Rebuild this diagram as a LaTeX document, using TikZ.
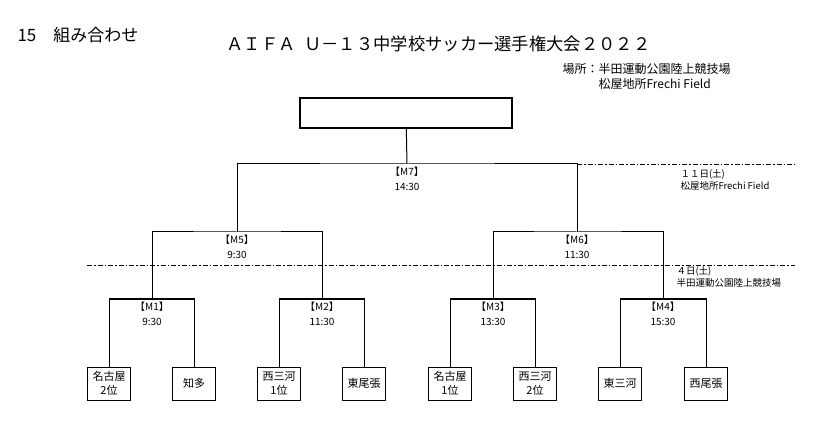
\documentclass[tikz,border=0pt]{standalone}
\usepackage{fontspec}
\setmainfont{Noto Sans CJK JP}
\usetikzlibrary{positioning}
\tikzset{
  team/.style={draw, minimum width=43pt, minimum height=33pt, inner sep=0pt,
    align=center, font=\fontsize{11}{13.5}\selectfont},
  match/.style={align=center, inner sep=0pt, font=\fontsize{10}{14.5}\selectfont},
  day/.style={anchor=north west, align=left, inner sep=0pt, font=\fontsize{9.5}{12}\selectfont},
  dashdot/.style={line width=0.8pt, dash pattern=on 5pt off 2pt on 1.5pt off 2pt},
}

\begin{document}
\begin{tikzpicture}[x=1pt,y=-1pt,line width=1pt]
  \useasboundingbox (0,0) rectangle (817,422);
  % headings
  \node (num) [anchor=west, inner sep=0pt, font=\fontsize{17}{20}\selectfont] at (17,35) {15　組み合わせ};
  \node (title) [anchor=west, inner sep=0pt, font=\fontsize{17.3}{20}\selectfont] at (226,44)
    {ＡＩＦＡ\hspace{0.5em}Ｕ－１３中学校サッカー選手権大会２０２２};
  \node (venue) [anchor=north west, align=left, inner sep=0pt, font=\fontsize{12}{15}\selectfont] at (562,63)
    {場所：半田運動公園陸上競技場\\\phantom{場所：}松屋地所Frechi Field};

  % teams
  \node (l1) [team] at (109,383.5) {名古屋\\2位};
  \node (l2) [team] at (194,383.5) {知多};
  \node (l3) [team] at (279,383.5) {西三河\\1位};
  \node (l4) [team] at (364,383.5) {東尾張};
  \node (l5) [team] at (450,383.5) {名古屋\\1位};
  \node (l6) [team] at (535,383.5) {西三河\\2位};
  \node (l7) [team] at (620,383.5) {東三河};
  \node (l8) [team] at (706,383.5) {西尾張};

  % matches
  \coordinate (m1) at (152,299);
  \coordinate (m2) at (322,299);
  \coordinate (m3) at (493,299);
  \coordinate (m4) at (663,299);
  \coordinate (m5) at (237,232);
  \coordinate (m6) at (577,232);
  \coordinate (m7) at (407,164);
  \node (final) [draw, line width=2pt, minimum width=212pt, minimum height=30pt] at (406,113) {};

  \foreach \a/\m/\b in {l1/m1/l2, l3/m2/l4, l5/m3/l6, l7/m4/l8, m1/m5/m2, m3/m6/m4, m5/m7/m6}
    \draw (\a) |- (\m) -| (\b);
  \draw (m7) -- (final);

  \node (t1) [match, below=3pt of m1] {【M1】\\9:30};
  \node (t2) [match, below=3pt of m2] {【M2】\\11:30};
  \node (t3) [match, below=3pt of m3] {【M3】\\13:30};
  \node (t4) [match, below=3pt of m4] {【M4】\\15:30};
  \node (t5) [match, below=3pt of m5] {【M5】\\9:30};
  \node (t6) [match, below=3pt of m6] {【M6】\\11:30};
  \node (t7) [match, below=3pt of m7] {【M7】\\14:30};

  % day lines
  \coordinate (e1) at (795,164);
  \coordinate (s2) at (87,265);
  \coordinate (e2) at (795,265);
  \draw[dashdot] (m6 |- m7) -- (e1);
  \draw[dashdot] (s2) -- (e2);
  \node (day11) [day] at (680,169) {１１日(土)\\松屋地所Frechi Field};
  \node (day4) [day] at (676,266) {４日(土)\\半田運動公園陸上競技場};
\end{tikzpicture}
\end{document}
